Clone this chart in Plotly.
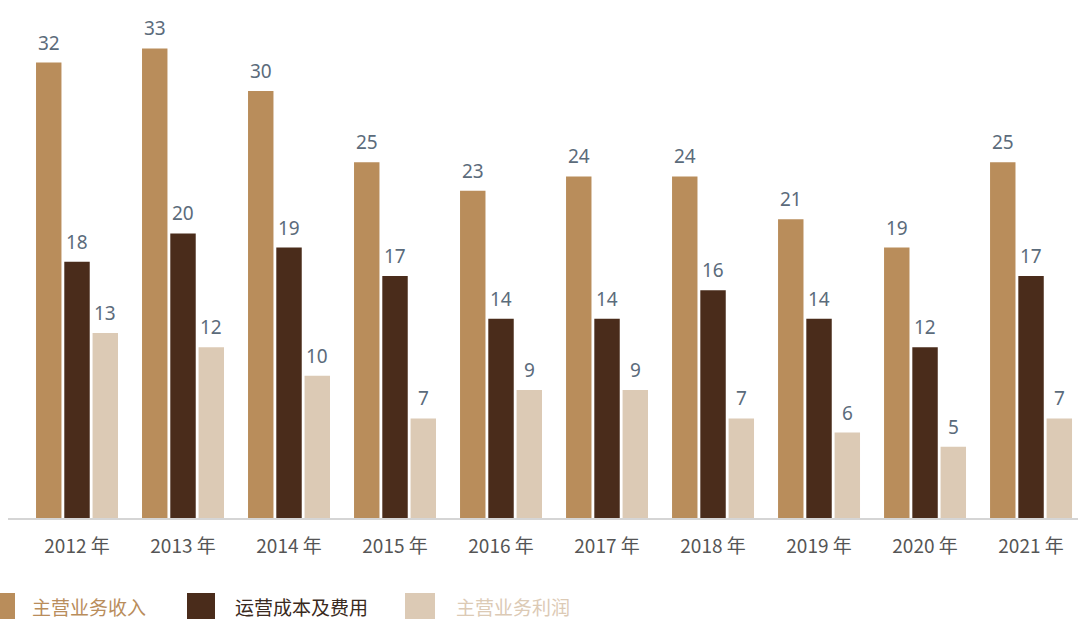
import plotly.graph_objects as go

years = ["2012", "2013", "2014", "2015", "2016", "2017", "2018", "2019", "2020", "2021"]
tick_labels = [f"{y} 年" for y in years]
series_names = ["主营业务收入", "运营成本及费用", "主营业务利润"]
income = [32, 33, 30, 25, 23, 24, 24, 21, 19, 25]
cost = [18, 20, 19, 17, 14, 14, 16, 14, 12, 17]
profit = [13, 12, 10, 7, 9, 9, 7, 6, 5, 7]

colors = ["#b98d5b", "#4a2c1b", "#dccab5"]
label_color = "#5b6b7b"
num_font = "Noto Sans, Open Sans, sans-serif"
cjk_font = "Noto Sans CJK SC, sans-serif"

W, H = 1078, 619
L, B = 8, 101
plot_w, plot_h = W - L, H - B
x_range = [-0.651, 9.443]
bargap = 0.2
px_per_cat = plot_w / (x_range[1] - x_range[0])
slot_px = (1 - bargap) / 3 * px_per_cat

x = list(range(len(years)))
fig = go.Figure()
annotations = []
for k, (name, vals, col) in enumerate(zip(series_names, [income, cost, profit], colors)):
    fig.add_trace(go.Bar(
        x=x, y=vals, name=name,
        marker=dict(color=col, line=dict(width=0)),
        showlegend=False,
    ))
    # value labels above each bar
    for xi, v in zip(x, vals):
        annotations.append(dict(
            x=xi, y=v, xref="x", yref="y", text=str(v), showarrow=False,
            xanchor="center", yanchor="bottom",
            xshift=(k - 1) * slot_px, yshift=5,
            font=dict(size=19, color=label_color, family=num_font)))

# legend drawn as large swatches with coloured captions
legend_pos = [(-15, 15, 30), (187, 215, 233), (405, 435, 454)]
shapes = []
for (x0, x1, tx), name, col in zip(legend_pos, series_names, colors):
    shapes.append(dict(type="rect", xref="paper", yref="paper",
                       x0=(x0 - L) / plot_w, x1=(x1 - L) / plot_w,
                       y0=-(H - plot_h) / plot_h, y1=-(593 - plot_h) / plot_h,
                       fillcolor=col, line=dict(width=0), layer="above"))
    txt_col = col if col != colors[1] else "#3a2a20"
    annotations.append(dict(xref="paper", yref="paper",
                            x=(tx - L) / plot_w, y=-(606 - plot_h) / plot_h,
                            xanchor="left", yanchor="middle", showarrow=False,
                            text=name,
                            font=dict(size=19, color=txt_col, family=cjk_font)))

fig.update_layout(
    width=W, height=H,
    margin=dict(l=L, r=0, t=0, b=B),
    paper_bgcolor="white", plot_bgcolor="white",
    barmode="group", bargap=bargap, bargroupgap=0.1,
    shapes=shapes, annotations=annotations,
    xaxis=dict(range=x_range, tickvals=x, ticktext=tick_labels,
               showline=True, linecolor="#d5d5d5", linewidth=2,
               showgrid=False, zeroline=False, ticks="",
               ticklabelstandoff=10,
               tickfont=dict(size=19, color="#555555", family=cjk_font)),
    yaxis=dict(range=[0, 36.4], visible=False, showgrid=False, zeroline=False),
)

fig.write_html("out.html")
